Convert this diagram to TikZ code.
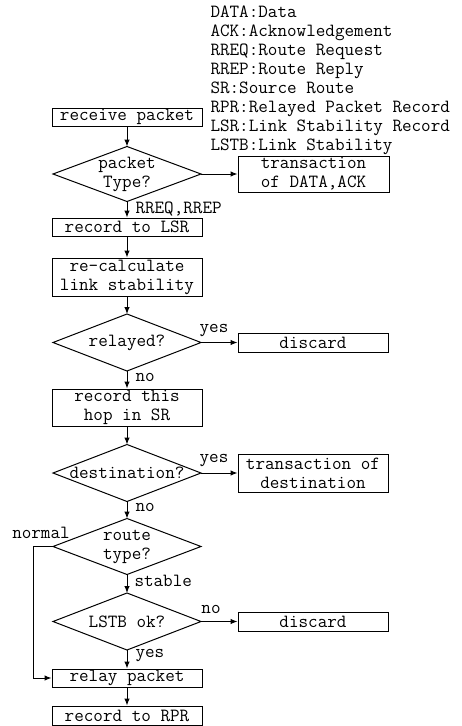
\documentclass[tikz,border=0pt]{standalone}
\usepackage{fontspec}
\usetikzlibrary{arrows.meta}

\tikzset{
  box/.style={draw, minimum width=150pt, inner sep=0pt, align=center},
  decision/.style={inner sep=0pt, minimum width=147pt, minimum height=55pt, align=center,
    append after command={\pgfextra{\draw (\tikzlastnode.north) -- (\tikzlastnode.east) -- (\tikzlastnode.south) -- (\tikzlastnode.west) -- cycle;}}},
  tag/.style={inner sep=0pt},
}

\begin{document}
\begin{tikzpicture}[x=1pt,y=-1pt,line width=1pt,>={Latex[length=7pt,width=5.5pt]},
  every node/.style={font=\ttfamily\fontsize{18.6}{19}\selectfont}]
	\useasboundingbox (0,0) rectangle (462,726);

	\node[tag,anchor=west,align=left] at (210,80) (legend) {DATA:Data\\ACK:Acknowledgement\\RREQ:Route Request\\RREP:Route Reply\\SR:Source Route\\RPR:Relayed Packet Record\\LSR:Link Stability Record\\LSTB:Link Stability};

	\node[box,minimum height=18pt] at (127,117) (receive) {receive packet};
	\node[decision,minimum height=54pt] at (127,174) (ptype) {packet\\Type?};
	\node[box,minimum width=151pt,minimum height=36pt] at (313.5,174) (dataack) {transaction\\of DATA,ACK};
	\node[box,minimum height=18pt] at (127,227) (lsr) {record to LSR};
	\node[box,minimum height=38pt] at (127,277) (recalc) {re-calculate\\link stability};
	\node[decision,minimum height=56pt] at (127,342.5) (relayed) {relayed?};
	\node[box,minimum height=19pt] at (313,342.5) (discard1) {discard};
	\node[box,minimum height=37pt] at (127,407.5) (hop) {record this\\hop in SR};
	\node[decision,minimum height=56pt] at (127,473) (dest) {destination?};
	\node[box,minimum height=38pt] at (313,473) (transdest) {transaction of\\destination};
	\node[decision] at (127,546.5) (rtype) {route\\type?};
	\node[decision,minimum height=56pt] at (127,621.5) (lstb) {LSTB ok?};
	\node[box,minimum height=19pt] at (313,621.5) (discard2) {discard};
	\node[box,minimum height=18pt] at (127,678) (relay) {relay packet};
	\node[box,minimum height=19pt] at (127,715.5) (rpr) {record to RPR};

	% branch labels
	\node[tag,anchor=west] at (135,209) (lrreq) {RREQ,RREP};
	\node[tag] at (214,331) (lyes1) {yes};
	\node[tag,anchor=west] at (135,377) (lno1) {no};
	\node[tag] at (214,461) (lyes2) {yes};
	\node[tag,anchor=west] at (135,507) (lno2) {no};
	\node[tag] at (41,533) (lnormal) {normal};
	\node[tag,anchor=west] at (134,581) (lstable) {stable};
	\node[tag] at (211,609) (lno3) {no};
	\node[tag,anchor=west] at (135,656) (lyes3) {yes};

	\path[->] (receive) edge (ptype);
	\path[->] (ptype) edge (dataack);
	\path[->] (ptype) edge (lsr);
	\path[->] (lsr) edge (recalc);
	\path[->] (recalc) edge (relayed);
	\path[->] (relayed) edge (discard1);
	\path[->] (relayed) edge (hop);
	\path[->] (hop) edge (dest);
	\path[->] (dest) edge (transdest);
	\path[->] (dest) edge (rtype);
	\path[->] (rtype) edge (lstb);
	\path[->] (lstb) edge (discard2);
	\path[->] (lstb) edge (relay);
	\draw[->] (rtype.west) -- ++(-20,0) |- (relay.west);
	\path[->] (relay) edge (rpr);
\end{tikzpicture}
\end{document}
